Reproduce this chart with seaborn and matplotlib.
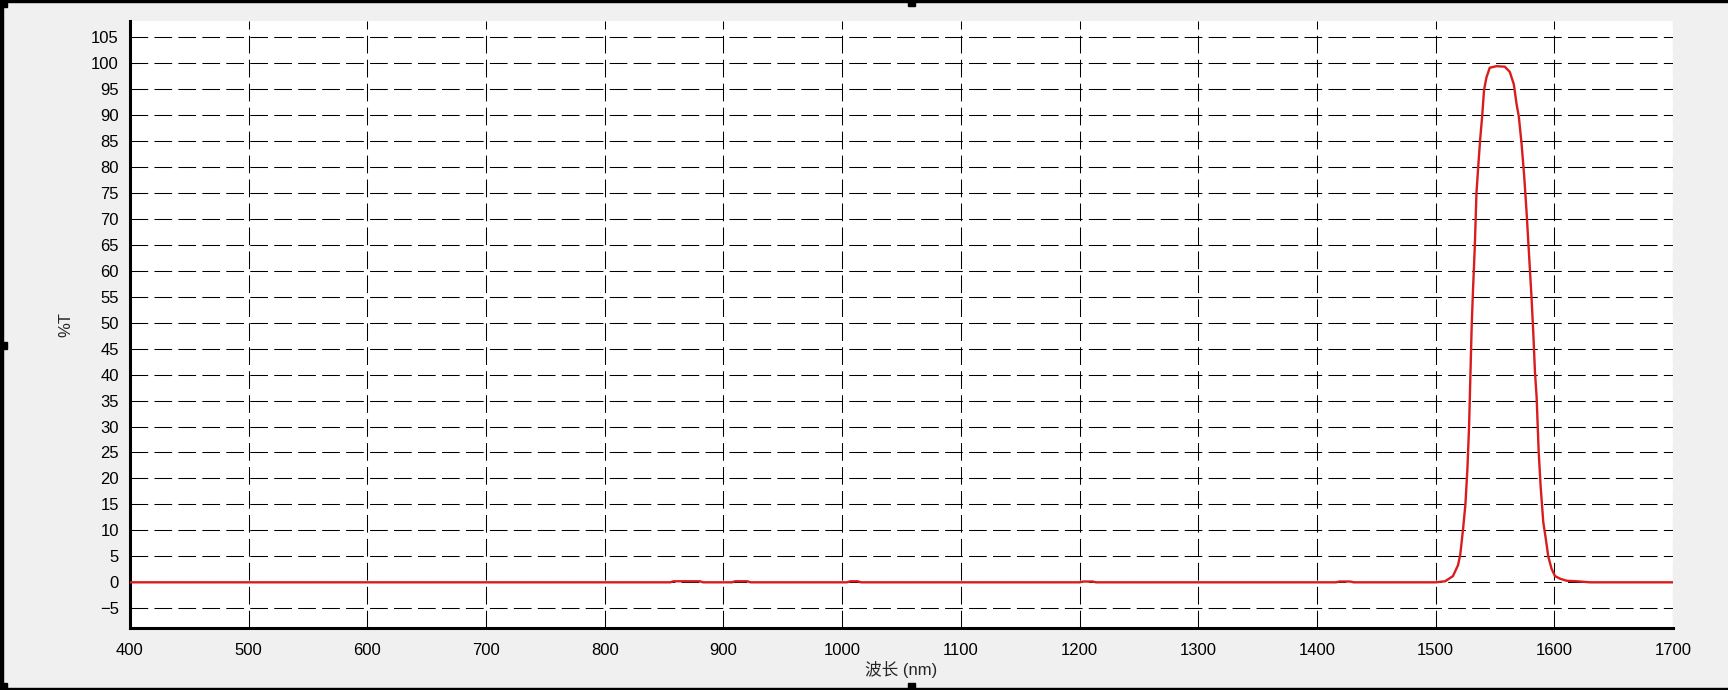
import numpy as np
import pandas as pd
import matplotlib
matplotlib.use("Agg")
import matplotlib.pyplot as plt
import seaborn as sns
from matplotlib.patches import Rectangle

# --- DATA ---
panjang_gelombang = [
    400, 855, 858, 880, 883, 907, 910, 920, 923, 1004, 1007, 1013, 1016,
    1200, 1203, 1211, 1214, 1416, 1419, 1428, 1431, 1500, 1508, 1514.6,
    1518.9, 1520.8, 1523.1, 1525.1, 1526.8, 1528.2, 1529.3, 1530.4, 1531.5,
    1533.0, 1534.4, 1536.0, 1537.5, 1539.2, 1540.8, 1542.8, 1545.6, 1551.3,
    1558.3, 1562.5, 1565.9, 1568.2, 1570.1, 1572.4, 1574.6, 1576.6, 1578.0,
    1579.4, 1580.8, 1582.3, 1583.7, 1585.1, 1586.8, 1588.5, 1590.7, 1593.0,
    1594.9, 1597.7, 1600.6, 1604.8, 1610.4, 1618.9, 1630, 1700,
]
transmisi = [
    0.0, 0.0, 0.2, 0.2, 0.0, 0.0, 0.2, 0.2, 0.0, 0.0, 0.2, 0.2, 0.0,
    0.0, 0.15, 0.15, 0.0, 0.0, 0.15, 0.15, 0.0, 0.0, 0.2, 1.2,
    3.3, 5.4, 10.2, 15.0, 21.9, 30.1, 39.8, 49.4, 56.3,
    64.6, 74.9, 80.4, 85.2, 89.7, 94.8, 97.2, 99.1, 99.4,
    99.3, 98.3, 95.9, 92.1, 89.7, 84.5, 78.3, 71.4, 65.9,
    60.4, 54.9, 48.0, 40.5, 35.7, 25.3, 18.4, 11.6, 8.1,
    5.0, 2.6, 1.2, 0.7, 0.3, 0.2, 0.0, 0.0,
]
x_ticks = list(range(400, 1701, 100))
y_ticks = list(range(-5, 106, 5))

df = pd.DataFrame({"nm": panjang_gelombang, "T": transmisi})

# --- STYLE ---
sns.set_style("white")
plt.rcParams["font.family"] = ["Liberation Sans", "Noto Sans CJK SC", "DejaVu Sans"]
plt.rcParams["font.size"] = 12

bg = "#F0F0F0"
fig = plt.figure(figsize=(17.28, 6.9), dpi=100, facecolor=bg)
ax = fig.add_axes([130 / 1728, 1 - 628 / 690, (1673 - 130) / 1728, (628 - 21) / 690])
ax.set_facecolor("white")

sns.lineplot(data=df, x="nm", y="T", ax=ax, color="#D91C1C", linewidth=1.7,
             estimator=None, sort=False, zorder=3)

ax.set_xlim(400, 1700)
ax.set_ylim(-8.8, 108.1)
ax.set_xticks(x_ticks)
ax.set_yticks(y_ticks)
ax.grid(True, color="black", linestyle=(0, (17, 6)), linewidth=0.75, zorder=1)
ax.set_axisbelow(True)

for s in ["top", "right"]:
    ax.spines[s].set_visible(False)
for s in ["left", "bottom"]:
    ax.spines[s].set_color("black")
    ax.spines[s].set_linewidth(2.2)

ax.tick_params(axis="both", direction="out", length=6, width=0.8, color="black",
               labelsize=12, labelcolor="black")
ax.tick_params(axis="y", pad=2)
ax.tick_params(axis="x", pad=5)

ax.set_xlabel("波长 (nm)", fontsize=12, labelpad=2)
ax.set_ylabel("%T", fontsize=12, labelpad=13)

# bingkai seleksi (frame + handle)
fig.patches.append(Rectangle((0, 1 - 2 / 690), 1, 2 / 690, transform=fig.transFigure,
                             color="black", zorder=10))
fig.patches.append(Rectangle((0, 0), 3 / 1728, 1, transform=fig.transFigure,
                             color="black", zorder=10))
fig.patches.append(Rectangle((0, 0), 1, 2 / 690, transform=fig.transFigure,
                             color="black", zorder=10))
for hx, hy in [(0, 683), (908, 684), (0, 341), (0, 0), (908, 0)]:
    fig.patches.append(Rectangle((hx / 1728, hy / 690), 7 / 1728, 7 / 690,
                                 transform=fig.transFigure, color="black", zorder=10))

plt.savefig("out.png", dpi=100, facecolor=bg)
